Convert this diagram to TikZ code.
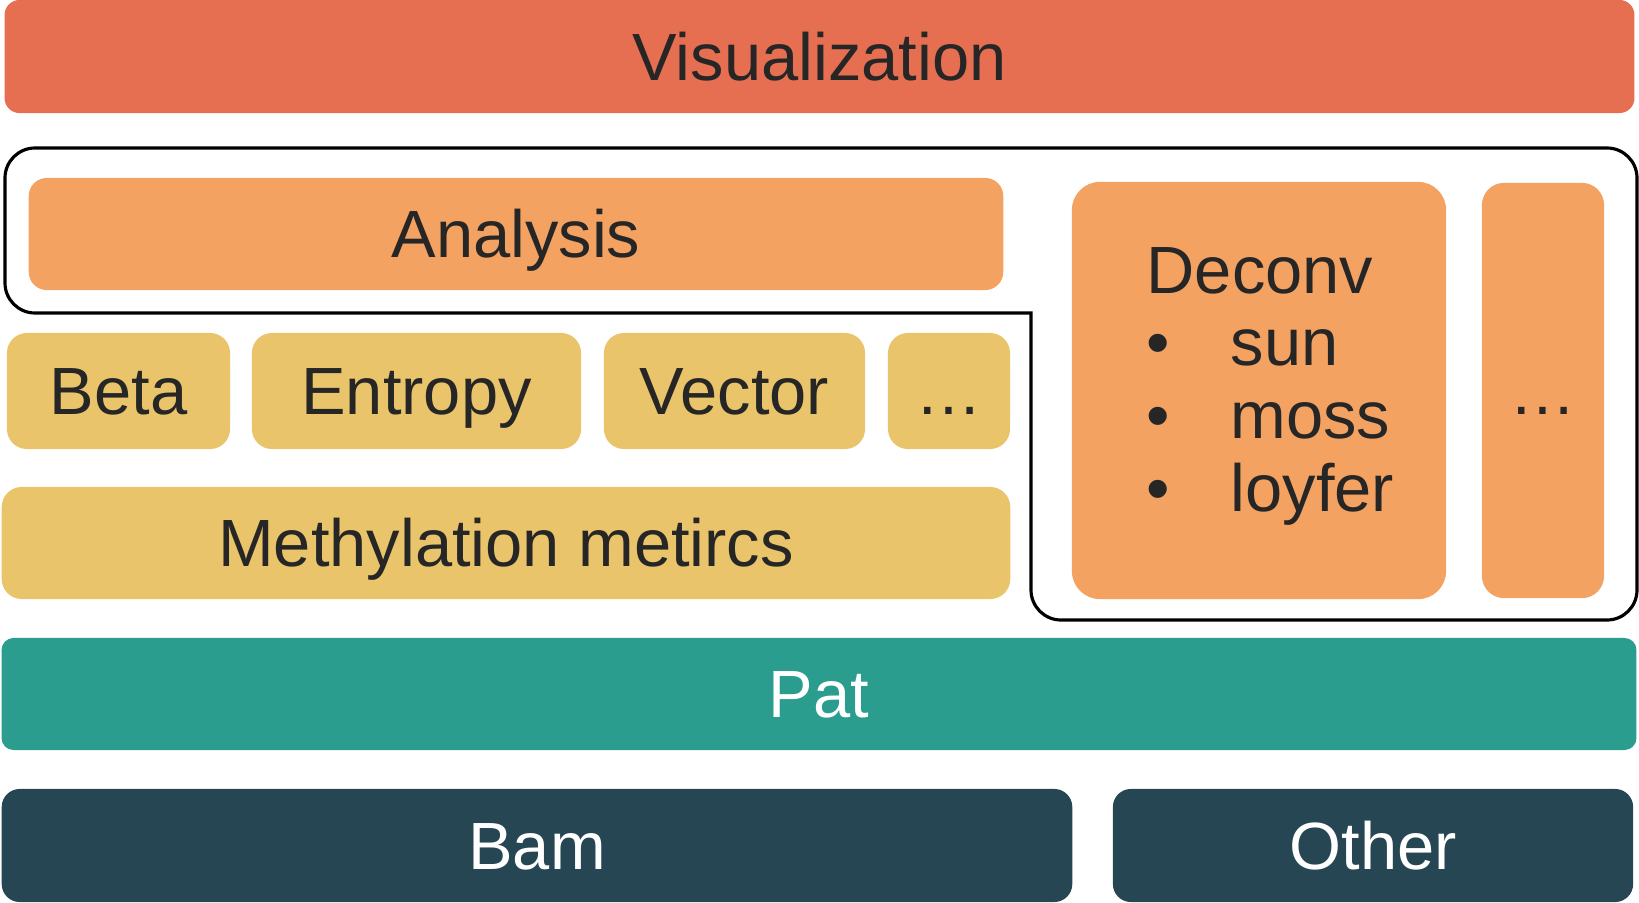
\documentclass[tikz,border=0pt]{standalone}
\usepackage{fontspec}
\setmainfont{Liberation Sans}
\definecolor{vizred}{HTML}{E76F51}
\definecolor{sandy}{HTML}{F4A261}
\definecolor{saffron}{HTML}{E9C46A}
\definecolor{patgreen}{HTML}{2A9D8F}
\definecolor{charcoal}{HTML}{264653}
\definecolor{ink}{HTML}{262626}
\begin{document}
\begin{tikzpicture}[x=0.01cm, y=-0.01cm,
    layer/.style={rectangle, inner sep=0pt, rounded corners=0.18cm, text=ink,
      font=\fontsize{19}{20.7}\selectfont, text height=13.6pt, text depth=0pt},
    metric/.style={layer, fill=saffron, minimum height=1.16cm, rounded corners=0.2cm}]
  \useasboundingbox (0,0) rectangle (1639,903);
  \node[layer, fill=vizred, minimum width=16.29cm, minimum height=1.13cm, rounded corners=0.15cm]
    (vis) at (819.5,56.5) {Visualization};
  % analysis group outline
  \draw[line width=0.9pt, rounded corners=0.3cm, line cap=rect]
    (1031,313) -- (5,313) -- (5,148) -- (1637,148) -- (1637,620) -- (1031,620) -- (1031,313);
  \node[layer, fill=sandy, minimum width=9.74cm, minimum height=1.12cm] (analysis) at (516,234) {Analysis};
  \node[layer, fill=sandy, minimum width=3.74cm, minimum height=4.17cm, rounded corners=0.28cm]
    (deconv) at (1259,390.5) {};
  \node[anchor=base west, inner sep=0pt, text=ink, font=\fontsize{19}{20.7}\selectfont]
    (deconvtxt) at (1146,293) {\begin{tabular}[t]{@{}l@{}}
      Deconv\\
      \makebox[0.84cm][l]{•}sun\\
      \makebox[0.84cm][l]{•}moss\\
      \makebox[0.84cm][l]{•}loyfer
    \end{tabular}};
  \node[layer, fill=sandy, minimum width=1.22cm, minimum height=4.15cm, rounded corners=0.22cm]
    (moretools) at (1543,390.5) {…};
  % metrics
  \node[metric, minimum width=2.23cm] (beta) at (118.5,391) {Beta};
  \node[metric, minimum width=3.29cm] (entropy) at (416.5,391) {Entropy};
  \node[metric, minimum width=2.61cm] (vector) at (734.5,391) {Vector};
  \node[metric, minimum width=1.22cm] (moremetrics) at (949,391) {…};
  \node[metric, minimum width=10.08cm, minimum height=1.12cm] (methyl) at (506,543) {Methylation metircs};
  % data layers
  \node[layer, fill=patgreen, text=white, minimum width=16.34cm, minimum height=1.12cm, rounded corners=0.12cm]
    (pat) at (819,694) {Pat};
  \node[layer, fill=charcoal, text=white, minimum width=10.70cm, minimum height=1.13cm]
    (bam) at (537,845.5) {Bam};
  \node[layer, fill=charcoal, text=white, minimum width=5.20cm, minimum height=1.13cm]
    (other) at (1373,845.5) {Other};
\end{tikzpicture}
\end{document}
